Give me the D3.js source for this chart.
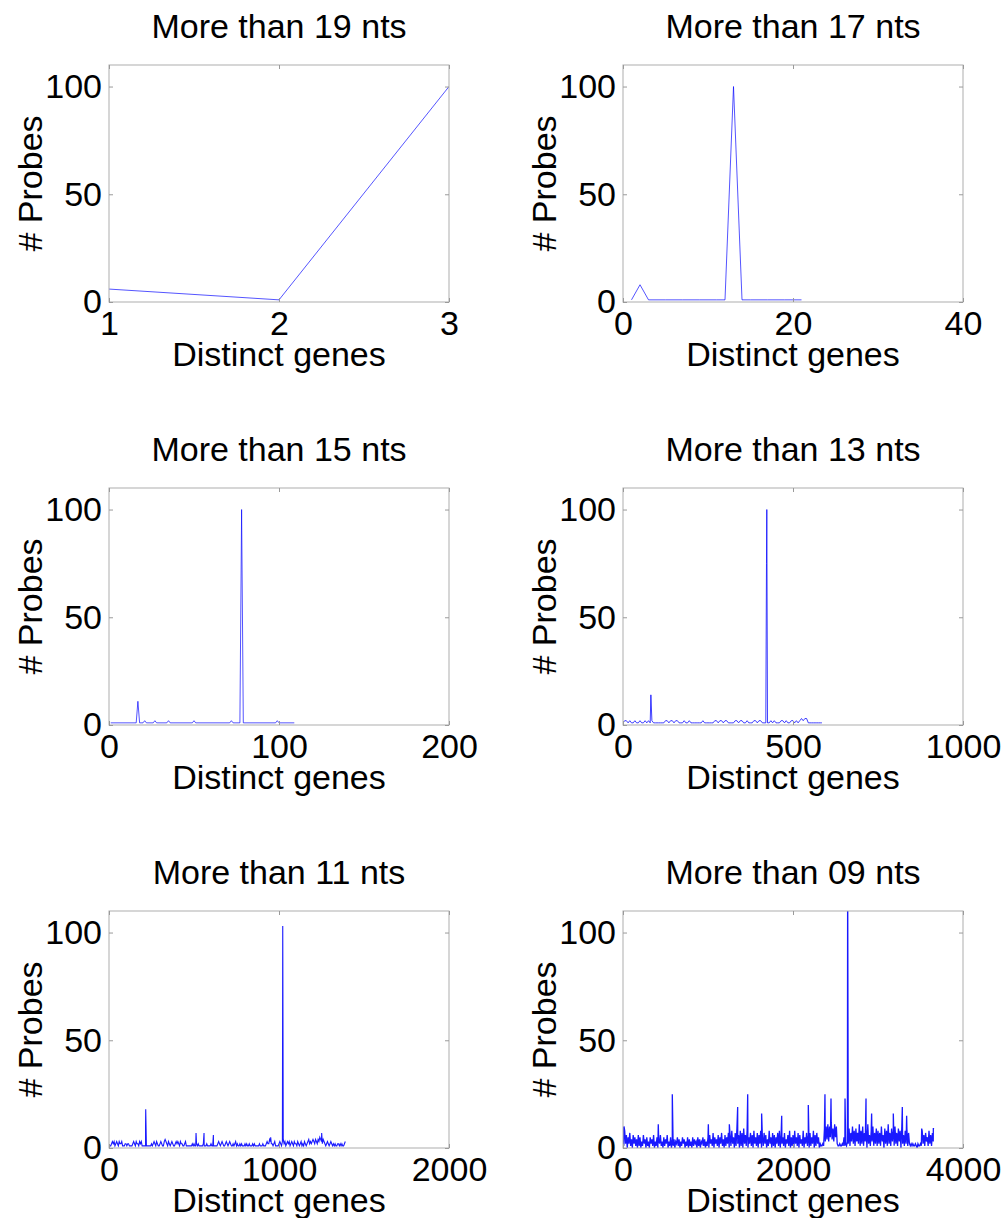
<!DOCTYPE html>
<html>
<head>
<meta charset="utf-8">
<script src="https://cdn.jsdelivr.net/npm/d3@7"></script>
<style>
  body { margin: 0; background: #fff; }
  svg text { font-family: "Liberation Sans", Arial, sans-serif; fill: #000; }
</style>
</head>
<body>
<div id="chart"></div>
<script>

// ---- data ----
var yTicks = [0, 50, 100];

// > 19 nts
var genes19 = [1, 2, 3];
var probes19 = [6, 1, 100];

// > 17 nts
var genes17 = [1, 2, 3, 4, 5, 6, 7, 8, 9, 10, 11, 12, 13, 14, 15, 16, 17, 18, 19, 20, 21];
var probes17 = [1, 8, 1, 1, 1, 1, 1, 1, 1, 1, 1, 1, 100, 1, 1, 1, 1, 1, 1, 1, 1];

// > 15 nts (breakpoints of the line)
var genes15 = [1, 16, 17, 18, 20, 21, 22, 26, 27, 28, 34, 35, 36, 49, 50, 51, 71, 72, 73, 77, 78, 79, 98, 99, 100, 109];
var probes15 = [1, 1, 11, 1, 1, 2, 1, 1, 2, 1, 1, 2, 1, 1, 2, 1, 1, 2, 1, 1, 100, 1, 1, 2, 1, 1];

// > 13 nts, sampled every 5 genes, plus the spikes
var step13 = 5;
var probes13 = [
  1,2,2,1,2,1,1,2,1,1,2,1,1,2,1,2,1,2,1,1,
  1,1,1,1,1,2,2,1,2,2,1,2,2,1,1,1,2,1,1,2,
  1,1,1,1,1,1,1,2,1,1,1,1,1,1,2,2,1,2,2,1,
  2,2,1,1,1,1,2,2,1,2,2,1,1,2,1,1,1,2,2,1,
  2,2,1,1,1,1,1,2,1,2,1,1,1,2,2,1,2,1,1,2,
  2,1,2,1,2,3,2,3,3,1,1,1,1,1,1,1,1,1
];
var spikes13 = [[82, 14], [422, 75], [423, 100]];

// > 11 nts, sampled every 5 genes, plus the spikes
var step11 = 5;
var probes11 = [
  1,1,1,2,3,2,3,1,2,3,2,1,3,2,2,3,1,1,1,2,
  2,1,2,2,1,1,1,1,2,3,2,1,3,2,2,1,3,2,3,1,
  1,1,1,1,1,1,1,1,1,1,2,1,2,3,2,1,3,2,1,1,
  2,3,2,1,1,3,4,3,2,1,3,2,1,2,3,2,1,1,2,3,
  2,3,2,1,3,2,2,1,1,2,3,1,1,1,1,1,1,1,2,1,
  2,1,1,2,1,2,1,1,1,1,1,2,1,1,1,2,1,1,1,1,
  2,1,1,1,1,1,1,1,2,3,2,1,2,3,2,1,1,2,3,2,
  1,2,3,2,1,1,2,1,2,3,1,2,1,1,2,1,2,1,1,1,
  2,1,2,1,1,2,1,1,1,2,1,2,1,1,1,1,1,2,1,1,
  1,2,1,1,1,2,3,2,2,4,3,2,2,1,2,3,1,1,1,1,
  2,3,2,1,3,4,2,3,1,2,3,2,3,1,2,3,2,1,3,2,
  2,1,3,2,1,2,3,1,2,1,3,2,1,2,3,4,2,3,2,3,
  4,3,2,4,3,2,4,3,5,4,3,2,4,3,2,1,2,3,2,1,
  2,3,2,1,2,1,2,1,1,2,2,1,2,1,2,1,1,2,3
];
var spikes11 = [[215, 10], [216, 18], [512, 7], [559, 7], [614, 6], [951, 5], [1021, 52], [1022, 103], [1251, 7]];

// > 09 nts, sampled every 10 genes, plus the spikes
var step09 = 10;
var probes09 = [
  10,1,8,2,6,0,5,2,7,1,4,0,6,2,5,1,4,0,6,1,
  5,0,3,1,6,2,4,0,5,1,3,0,5,2,4,1,6,0,3,1,
  5,0,4,2,6,1,3,0,5,1,4,2,6,0,3,1,5,0,4,1,
  4,0,3,2,5,1,4,0,3,1,5,2,4,0,3,1,5,0,4,1,
  3,0,5,1,4,2,3,0,5,1,4,0,3,2,5,1,4,0,3,1,
  5,0,6,2,4,1,7,0,5,2,4,1,6,0,5,2,7,1,4,0,
  6,1,5,2,7,0,6,1,8,2,5,0,7,1,9,2,6,0,8,1,
  7,0,9,2,6,1,8,0,5,2,7,1,6,0,8,2,5,1,7,0,
  6,2,8,0,5,1,7,2,6,0,4,1,8,2,5,0,7,1,6,0,
  5,2,7,1,8,0,6,2,5,1,7,0,4,2,6,1,8,0,5,1,
  6,0,8,2,5,1,7,0,6,2,4,1,8,0,5,2,7,1,6,0,
  7,1,5,2,8,0,6,1,7,2,5,0,2,1,1,2,1,9,3,10,
  4,11,3,10,5,12,4,9,3,11,5,10,2,1,1,2,1,1,2,1,
  5,1,2,1,3,2,9,1,7,3,10,2,8,1,9,3,7,2,11,1,
  8,2,10,1,7,3,9,0,11,2,6,1,8,3,10,1,7,2,9,1,
  8,2,7,1,10,3,6,0,9,2,8,1,11,2,7,1,9,3,8,1,
  10,2,7,1,9,3,8,0,10,2,6,1,8,2,9,1,7,2,1,2,
  1,2,1,1,2,1,0,2,1,1,2,1,8,2,6,1,7,3,5,1,
  8,2,6,1,7,3,9
];
var spikes09 = [[12, 10], [415, 11], [580, 25], [1004, 11], [1251, 11], [1349, 19], [1467, 25],
  [1631, 16], [1867, 15], [2180, 20], [2376, 25], [2447, 23], [2612, 23], [2643, 130],
  [2859, 23], [2925, 16], [3180, 16], [3286, 19], [3337, 15], [3514, 9], [3651, 9]];

var titles = ["More than 19 nts", "More than 17 nts", "More than 15 nts",
              "More than 13 nts", "More than 11 nts", "More than 09 nts"];
var xDomains = [[1, 3], [0, 40], [0, 200], [0, 1000], [0, 2000], [0, 4000]];
var xTicks = [[1, 2, 3], [0, 20, 40], [0, 100, 200], [0, 500, 1000], [0, 1000, 2000], [0, 2000, 4000]];

// build point lists
function pairs(xs, ys) {
  return xs.map((g, i) => [g, ys[i]]);
}
function sampled(step, ys, spikes) {
  var pts = ys.map((v, i) => [i * step, v]).concat(spikes);
  pts.sort((a, b) => a[0] - b[0]);
  return pts;
}

var series = [
  pairs(genes19, probes19),
  pairs(genes17, probes17),
  pairs(genes15, probes15),
  sampled(step13, probes13, spikes13),
  sampled(step11, probes11, spikes11),
  sampled(step09, probes09, spikes09)
];

// the crowded panels are drawn a bit heavier
var lineWidths = [0.9, 0.9, 0.9, 1, 1.1, 1.3];

// ---- panel ----
LinePanel = function(_svg, _idx, _left, _top) {
  this.svg = _svg;
  this.idx = _idx;
  this.left = _left;
  this.top = _top;
  this.width = 340;
  this.height = 237;
  this.initVis();
}

LinePanel.prototype.initVis = function() {
  var vis = this;

  vis.g = vis.svg.append("g")
    .attr("transform", "translate(" + vis.left + "," + vis.top + ")");

  vis.x = d3.scaleLinear()
    .domain(xDomains[vis.idx])
    .range([0, vis.width]);

  vis.y = d3.scaleLinear()
    .domain([0, 110])
    .range([vis.height, 0]);

  vis.g.append("clipPath")
    .attr("id", "clip" + vis.idx)
    .append("rect")
    .attr("width", vis.width)
    .attr("height", vis.height);

  vis.updateVis();
}

LinePanel.prototype.updateVis = function() {
  var vis = this;
  var tickColor = "#9a9a9a";

  var line = d3.line()
    .x(d => vis.x(d[0]))
    .y(d => vis.y(d[1]));

  vis.g.append("path")
    .datum(series[vis.idx])
    .attr("clip-path", "url(#clip" + vis.idx + ")")
    .attr("fill", "none")
    .attr("stroke", "#0000ff")
    .attr("stroke-opacity", vis.idx > 3 ? 0.9 : 0.75)
    .attr("stroke-width", lineWidths[vis.idx])
    .attr("d", line);

  // box
  vis.g.append("rect")
    .attr("width", vis.width)
    .attr("height", vis.height)
    .attr("fill", "none")
    .attr("stroke", "#adadad")
    .attr("stroke-width", 1);

  var xb = vis.g.append("g")
    .attr("transform", "translate(0," + vis.height + ")")
    .call(d3.axisBottom(vis.x).tickValues(xTicks[vis.idx]).tickSize(-4).tickPadding(9).tickFormat(d3.format("d")));

  var xt = vis.g.append("g")
    .call(d3.axisTop(vis.x).tickValues(xTicks[vis.idx]).tickSize(-4).tickFormat(""));

  var yl = vis.g.append("g")
    .call(d3.axisLeft(vis.y).tickValues(yTicks).tickSize(-4).tickPadding(7));

  var yr = vis.g.append("g")
    .attr("transform", "translate(" + vis.width + ",0)")
    .call(d3.axisRight(vis.y).tickValues(yTicks).tickSize(-4).tickFormat(""));

  [xb, xt, yl, yr].forEach(function(a) {
    a.select(".domain").remove();
    a.selectAll(".tick line").attr("stroke", tickColor);
    a.selectAll("text")
      .attr("font-size", 34)
      .attr("font-family", "Liberation Sans, Arial, sans-serif")
      .attr("fill", "#000");
  });

  vis.g.append("text")
    .attr("x", vis.width / 2)
    .attr("y", -27)
    .attr("text-anchor", "middle")
    .attr("font-size", 34)
    .text(titles[vis.idx]);

  vis.g.append("text")
    .attr("x", vis.width / 2)
    .attr("y", vis.height + 64)
    .attr("text-anchor", "middle")
    .attr("font-size", 34)
    .text("Distinct genes");

  vis.g.append("text")
    .attr("transform", "translate(-67," + (vis.height / 2) + ") rotate(-90)")
    .attr("text-anchor", "middle")
    .attr("font-size", 34)
    .text("# Probes");
}

var svg = d3.select("#chart").append("svg")
  .attr("width", 1004)
  .attr("height", 1218);

svg.append("rect").attr("width", 1004).attr("height", 1218).attr("fill", "#fff");

var lefts = [109, 623];
var tops = [65, 488, 911];

titles.forEach(function(t, i) {
  new LinePanel(svg, i, lefts[i % 2], tops[Math.floor(i / 2)]);
});

</script>
</body>
</html>
